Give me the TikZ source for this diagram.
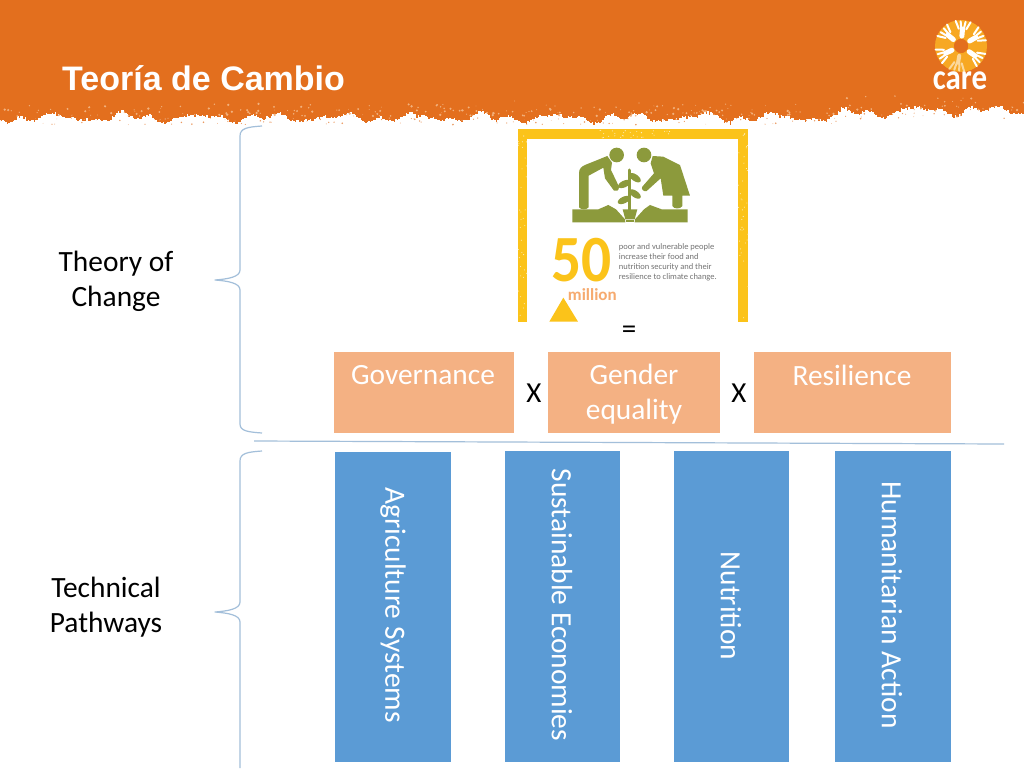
\documentclass[tikz,border=0pt]{standalone}
\usepackage{fontspec}
\setmainfont{Carlito}
\newfontfamily\titlefont{Liberation Sans}
\definecolor{hdr}{HTML}{E36F1E}
\definecolor{speck}{HTML}{F2B27E}
\definecolor{peach}{HTML}{F4B183}
\definecolor{bluebox}{HTML}{5B9BD5}
\definecolor{bracec}{HTML}{A3BFDA}
\definecolor{framey}{HTML}{FBC31A}
\definecolor{olive}{HTML}{8C9A3C}
\definecolor{logoy}{HTML}{F7A823}
\tikzset{
  peachbox/.style={fill=peach,draw=none,anchor=north west,inner sep=0pt},
  bluecol/.style={fill=bluebox,draw=none,anchor=north west,inner sep=0pt},
  boxtext/.style={text=white,font=\fontsize{29.4}{35}\selectfont,align=center,inner sep=0pt},
  coltext/.style={boxtext,rotate=-90},
  sidetext/.style={text=black,font=\fontsize{29.4}{35}\selectfont,align=center,inner sep=0pt},
  opsign/.style={text=black,font=\fontsize{29}{32}\selectfont,inner sep=0pt},
  bracket/.style={draw=bracec,line width=1.2pt,line join=round},
  iconline/.style={draw=olive,line cap=round,line join=round},
}
\begin{document}
\begin{tikzpicture}[x=1pt,y=-1pt]
\useasboundingbox (0,0) rectangle (1024,768);
\fill[white] (0,0) rectangle (1024,768);
% header with torn edge
\fill[hdr] (0,0) rectangle (1024,104);
\pgfmathsetseed{7}
\foreach \i in {0,...,682}{
  \pgfmathsetmacro{\px}{\i*1.5}
  \pgfmathsetmacro{\py}{116+3*sin(\px*5)+2*sin(\px*11+40)+1.5*sin(\px*14)-(\px>840?5:0)-(\px>900?2:0)+6*rnd*rnd*rnd*rnd*rnd+3*rnd}
  \draw[hdr,line width=1.7pt] (\px,103) -- (\px,\py);
}
\foreach \i in {1,...,230}{
  \pgfmathsetmacro{\px}{rnd*1024}
  \pgfmathsetmacro{\py}{100+sqrt(rnd)*16-(\px>840?5:0)}
  \pgfmathsetmacro{\pr}{0.4+rnd*0.9}
  \fill[speck] (\px,\py) circle (\pr);
}
\foreach \i in {1,...,120}{
  \pgfmathsetmacro{\px}{rnd*1024}
  \pgfmathsetmacro{\py}{118+rnd*7-(\px>840?6:0)}
  \pgfmathsetmacro{\pr}{0.3+rnd*0.6}
  \fill[hdr!70] (\px,\py) circle (\pr);
}
\node[anchor=west,text=white,font=\titlefont\bfseries\fontsize{34}{38}\selectfont,inner sep=0pt] (title) at (62,78) {Teoría de Cambio};
% logo
\begin{scope}[shift={(961,46)}]
  \fill[logoy,even odd rule] (0,0) circle (26) (0,0) circle (7);
  \foreach \a in {30,85,140,205,325}{
    \begin{scope}[rotate=\a]
      \draw[white,line width=5pt,line cap=round] (10,0) -- (17,0);
      \foreach \t in {-7.5,-2.5,2.5,7.5}{
        \draw[white,line width=2pt,line cap=round] (17,\t/2) -- (24.5,\t);
      }
    \end{scope}
  }
  \foreach \a in {260}{
    \begin{scope}[rotate=\a]
      \draw[white!55!logoy,line width=4pt,line cap=round] (10,0) -- (17,0);
      \foreach \t in {-7.5,-2.5,2.5,7.5}{
        \draw[white!55!logoy,line width=2pt,line cap=round] (17,\t/2) -- (24.5,\t);
      }
    \end{scope}
  }
  \fill[hdr] (0,0) circle (7);
\end{scope}
\node[text=white,font=\bfseries\fontsize{36}{36}\selectfont,xscale=.86,inner sep=0pt] (logotext) at (960,81) {care};
% picture panel (coordinates in 1/3 px)
\begin{scope}[shift={(500,120)},x=.3333pt,y=-.3333pt]
  \fill[framey] (53,28) rectangle (745,605);
  \fill[white] (82,57) rectangle (714,610);
  \fill[white] (40,605) rectangle (760,620);
  \foreach \i in {1,...,70}{
    \pgfmathsetmacro{\py}{30+rnd*570}
    \pgfmathsetmacro{\px}{\i<35?(54+rnd*27):(715+rnd*29)}
    \fill[white!70!framey] (\px,\py) circle (1.6);
  }
  \foreach \i in {1,...,30}{
    \pgfmathsetmacro{\px}{300+rnd*230}
    \pgfmathsetmacro{\py}{30+rnd*25}
    \fill[white!70!framey] (\px,\py) circle (1.6);
  }
  % people
  \fill[olive] (350,105) circle (22);
  \fill[olive] (432,105) circle (22);
  \fill[olive,line join=round] (237,262) -- (237,160) .. controls (237,145) and (245,140) .. (255,135) -- (322,108) -- (336,128) -- (333,150) -- (357,200) .. controls (358,212) and (348,216) .. (342,212) -- (315,175) -- (310,143) -- (266,167) -- (266,262) .. controls (260,270) and (243,270) .. (237,262) -- cycle;
  \fill[olive,line join=round] (458,108) -- (490,110) -- (540,135) -- (570,227) -- (547,227) -- (547,258) .. controls (542,268) and (522,268) .. (517,258) -- (517,227) -- (490,227) -- (482,175) -- (440,213) .. controls (432,216) and (422,208) .. (427,200) -- (462,160) -- (452,130) -- cycle;
  % plant
  \draw[iconline,line width=3pt] (390,150) -- (390,272);
  \foreach \sx/\sy/\rot in {373/192/25,405/173/-35,372/240/25,405/222/-35}{
    \fill[olive,rotate around={\rot:(\sx,\sy)}] (\sx,\sy) ellipse (20 and 10);
  }
  \fill[olive] (368,268) -- (412,268) -- (404,298) -- (376,298) -- cycle;
  % ground
  \fill[olive] (217,307) -- (217,268) -- (295,268) -- (325,255) -- (348,268) -- (375,298) -- (376,307) -- cycle;
  \fill[olive] (563,307) -- (563,268) -- (485,268) -- (450,255) -- (432,268) -- (405,298) -- (404,307) -- cycle;
  \fill[olive] (379,300) rectangle (401,307);
  % figure
  \node[text=framey,font=\bfseries\fontsize{66}{66}\selectfont,xscale=.9,inner sep=0pt] (fifty) at (245,421) {50};
  \node[text=peach!85!orange,font=\bfseries\fontsize{17}{17}\selectfont,inner sep=0pt] (million) at (277,523) {million};
  \fill[framey] (148,605) -- (190,533) -- (234,605) -- cycle;
  \node[anchor=north west,text=black!55,font=\fontsize{8.5}{10}\selectfont,align=left,inner sep=0pt] (caption) at (356,370) {poor and vulnerable people\\increase their food and\\nutrition security and their\\resilience to climate change.};
\end{scope}
\node[opsign] (equals) at (629,332) {=};
% peach boxes
\node[peachbox,minimum width=180pt,minimum height=81pt] (gov) at (334,352) {};
\node[peachbox,minimum width=172pt,minimum height=81pt] (gen) at (548,352) {};
\node[peachbox,minimum width=197pt,minimum height=81pt] (res) at (754,352) {};
\node[boxtext] (govt) at (423,375) {Governance};
\node[boxtext] (gent) at (634,394.5) {Gender\\equality};
\node[boxtext] (rest) at (852,375) {Resilience};
\node[opsign] (x1) at (534,393) {X};
\node[opsign] (x2) at (739,393) {X};
% blue columns
\node[bluecol,minimum width=116pt,minimum height=310pt] (c1) at (335,452) {};
\node[bluecol,minimum width=115pt,minimum height=311pt] (c2) at (505,451) {};
\node[bluecol,minimum width=115pt,minimum height=311pt] (c3) at (674,451) {};
\node[bluecol,minimum width=116pt,minimum height=311pt] (c4) at (835,451) {};
\node[coltext] (c1t) at (393,605) {Agriculture Systems};
\node[coltext] (c2t) at (562,605) {Sustainable Economies};
\node[coltext] (c3t) at (731,606) {Nutrition};
\node[coltext] (c4t) at (892,605) {Humanitarian Action};
% side labels
\node[sidetext] (toc) at (116,281) {Theory of\\Change};
\node[sidetext] (tp) at (106,607.5) {Technical\\Pathways};
% braces and divider
\draw[bracket] (262,126) .. controls (248,127) and (240,128) .. (240,136) -- (240,270) .. controls (240,277) and (228,279) .. (215,280) .. controls (228,281) and (240,283) .. (240,290) -- (240,424) .. controls (240,431) and (248,432) .. (262,433);
\draw[bracket] (262,451) .. controls (248,452) and (240,453) .. (240,461) -- (240,602) .. controls (240,609) and (228,611) .. (215,612) .. controls (228,613) and (240,615) .. (240,622) -- (240,768);
\draw[bracket] (254,441) -- (1004,444);
\end{tikzpicture}
\end{document}
